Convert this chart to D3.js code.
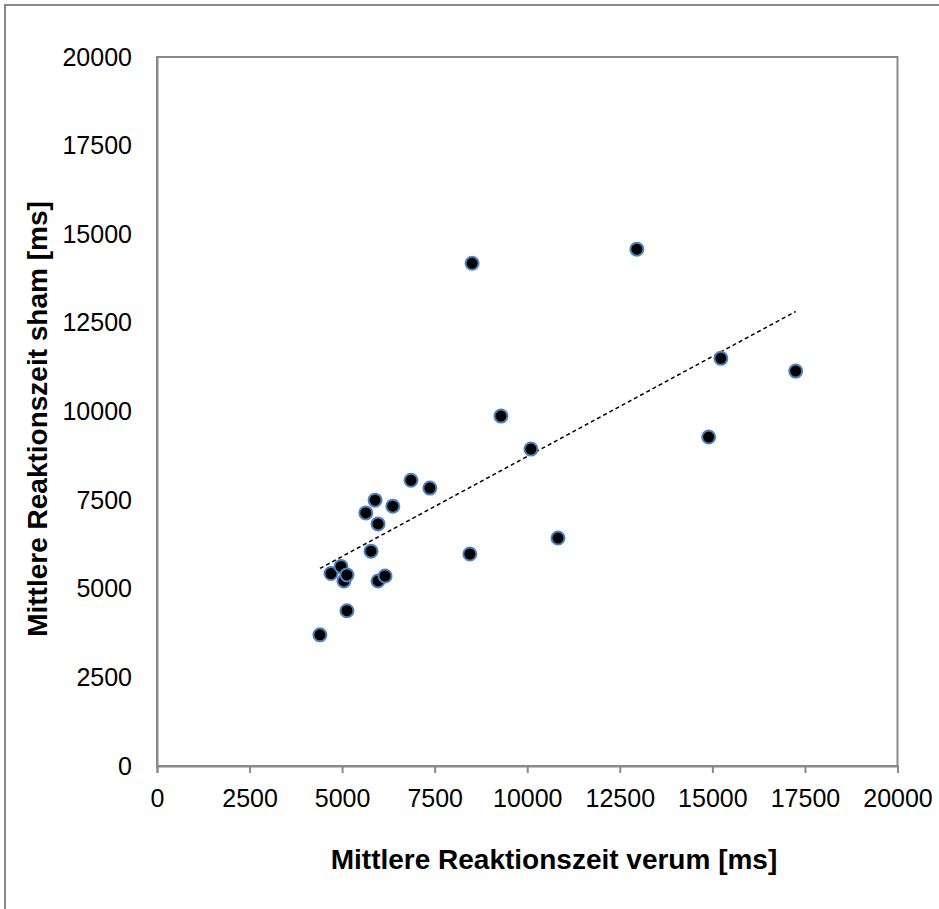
<!DOCTYPE html>
<html>
<head>
<meta charset="utf-8">
<script src="https://cdn.jsdelivr.net/npm/d3@7"></script>
<style>
  html, body { margin: 0; padding: 0; background: #fff; }
  svg { display: block; }
  text { font-family: "Liberation Sans", Arial, sans-serif; }
</style>
</head>
<body>
<svg id="chart" width="939" height="909"></svg>
<script>
// Data
const verum = [4400, 4700, 4970, 5050, 5130, 5130, 5640, 5780, 5890, 5970, 5970, 6160, 6370, 6860, 7370, 8450, 8510, 9290, 10100, 10830, 12960, 14900, 15230, 17250];
const sham  = [3700, 5430, 5630, 5220, 5390, 4380, 7140, 6060, 7500, 6830, 5220, 5360, 7330, 8060, 7840, 5980, 14180, 9870, 8940, 6430, 14580, 9280, 11500, 11140];
const xTicks = [0, 2500, 5000, 7500, 10000, 12500, 15000, 17500, 20000];
const yTicks = [0, 2500, 5000, 7500, 10000, 12500, 15000, 17500, 20000];
const xTitle = "Mittlere Reaktionszeit verum [ms]";
const yTitle = "Mittlere Reaktionszeit sham [ms]";

const svg = d3.select("#chart");
const gray = "#898989";

// outer chart border (left/top visible)
svg.append("rect")
  .attr("x", 5).attr("y", 5).attr("width", 960).attr("height", 960)
  .attr("fill", "none").attr("stroke", gray).attr("stroke-width", 2);

const L = 157, R = 897.5, T = 57, B = 766;
const x = d3.scaleLinear().domain([0, 20000]).range([L, R]);
const y = d3.scaleLinear().domain([0, 20000]).range([B, T]);

// plot frame
svg.append("rect")
  .attr("x", L).attr("y", T).attr("width", R - L).attr("height", B - T)
  .attr("fill", "none").attr("stroke", gray).attr("stroke-width", 2);

// x axis
const xAxis = d3.axisBottom(x).tickValues(xTicks).tickFormat(d3.format("d")).tickSize(7).tickPadding(16);
const gx = svg.append("g").attr("transform", `translate(0,${B})`).call(xAxis);
gx.select(".domain").attr("stroke", gray).attr("stroke-width", 2);
gx.selectAll(".tick line").attr("stroke", gray).attr("stroke-width", 2);
gx.selectAll(".tick text").attr("fill", "#000").style("font-size", "25px").style("font-family", "Liberation Sans, Arial, sans-serif");

// y axis (labels only)
const yAxis = d3.axisLeft(y).tickValues(yTicks).tickFormat(d3.format("d")).tickSize(0).tickPadding(25);
const gy = svg.append("g").attr("transform", `translate(${L},0)`).call(yAxis);
gy.select(".domain").attr("stroke", gray).attr("stroke-width", 2);
gy.selectAll(".tick text").attr("fill", "#000").style("font-size", "25px").style("font-family", "Liberation Sans, Arial, sans-serif");

// trendline (least squares)
const n = verum.length;
const mx = d3.mean(verum), my = d3.mean(sham);
let sxy = 0, sxx = 0;
for (let i = 0; i < n; i++) { sxy += (verum[i] - mx) * (sham[i] - my); sxx += (verum[i] - mx) ** 2; }
const slope = sxy / sxx, icpt = my - slope * mx;
const x0 = d3.min(verum), x1 = d3.max(verum);
svg.append("line")
  .attr("x1", x(x0)).attr("y1", y(icpt + slope * x0))
  .attr("x2", x(x1)).attr("y2", y(icpt + slope * x1))
  .attr("stroke", "#000").attr("stroke-width", 1.5).attr("stroke-dasharray", "4,3");

// points
svg.append("g").selectAll("circle")
  .data(verum.map((v, i) => [v, sham[i]]))
  .join("circle")
  .attr("cx", d => x(d[0])).attr("cy", d => y(d[1]))
  .attr("r", 6.5)
  .attr("fill", "#000").attr("stroke", "#4F81BD").attr("stroke-width", 2);

// axis titles
svg.append("text")
  .attr("x", 554).attr("y", 869)
  .attr("text-anchor", "middle")
  .style("font-size", "28px").style("font-weight", "bold")
  .text(xTitle);

svg.append("text")
  .attr("transform", "translate(47,419) rotate(-90)")
  .attr("text-anchor", "middle")
  .style("font-size", "28px").style("font-weight", "bold")
  .text(yTitle);
</script>
</body>
</html>
